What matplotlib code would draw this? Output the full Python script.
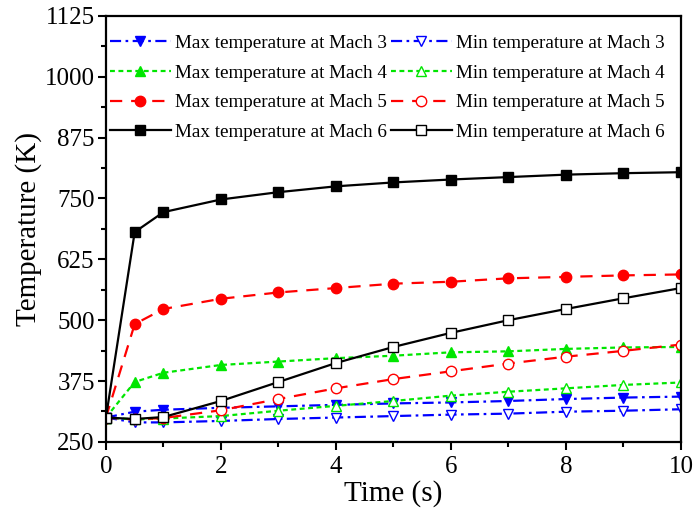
import matplotlib
matplotlib.use("Agg")
import matplotlib.pyplot as plt
from matplotlib.ticker import MultipleLocator

plt.rcParams['font.family'] = ['Liberation Serif', 'DejaVu Serif']
plt.rcParams['mathtext.fontset'] = 'stix'

time_s = [0, 0.5, 1, 2, 3, 4, 5, 6, 7, 8, 9, 10]
max_m3 = [300, 312, 316, 320, 323, 326, 329, 331, 334, 338, 341, 343]
min_m3 = [300, 290, 290, 293, 297, 300, 303, 306, 308, 312, 314, 317]
max_m4 = [300, 373, 392, 408, 415, 422, 427, 434, 436, 441, 444, 445]
min_m4 = [300, 296, 298, 303, 314, 324, 334, 345, 353, 360, 367, 372]
max_m5 = [300, 492, 523, 544, 557, 566, 575, 579, 586, 589, 592, 594]
min_m5 = [300, 296, 299, 315, 338, 360, 379, 395, 411, 425, 437, 450]
max_m6 = [300, 681, 722, 748, 763, 775, 783, 789, 794, 799, 802, 804]
min_m6 = [300, 297, 301, 334, 373, 412, 445, 474, 500, 523, 545, 566]

labels_max = ["Max temperature at Mach 3", "Max temperature at Mach 4",
              "Max temperature at Mach 5", "Max temperature at Mach 6"]
labels_min = ["Min temperature at Mach 3", "Min temperature at Mach 4",
              "Min temperature at Mach 5", "Min temperature at Mach 6"]

fig = plt.figure(figsize=(6.97, 5.15), dpi=100)
ax = fig.add_axes([0.152, 0.142, 0.825, 0.827])

styles = [
    dict(color='#0000ff', dashes=(5, 2, 1.2, 2), marker='v'),
    dict(color='#00e600', dashes=(2.2, 1.6), marker='^'),
    dict(color='#ff0000', dashes=(5.5, 4), marker='o'),
    dict(color='#000000', dashes=None, marker='s'),
]
max_series = [max_m3, max_m4, max_m5, max_m6]
min_series = [min_m3, min_m4, min_m5, min_m6]

hmax, hmin = [], []
ms = 7.5
for st, ymax, ymin, lmax, lmin in zip(styles, max_series, min_series, labels_max, labels_min):
    kw = dict(color=st['color'], lw=1.6, marker=st['marker'], ms=ms)
    if st['dashes'] is None:
        kw['linestyle'] = '-'
    else:
        kw['dashes'] = st['dashes']
    l1, = ax.plot(time_s, ymax, mfc=st['color'], mec=st['color'], label=lmax, **kw)
    l2, = ax.plot(time_s, ymin, mfc='white', mec=st['color'], mew=1.0, label=lmin, **kw)
    hmax.append(l1)
    hmin.append(l2)

ax.set_xlim(0, 10)
ax.set_ylim(250, 1125)
ax.xaxis.set_major_locator(MultipleLocator(2))
ax.xaxis.set_minor_locator(MultipleLocator(1))
ax.yaxis.set_major_locator(MultipleLocator(125))
ax.yaxis.set_minor_locator(MultipleLocator(62.5))
ax.tick_params(which='major', direction='out', length=6, width=1.5, labelsize=18)
ax.tick_params(axis='x', which='major', pad=4)
ax.tick_params(axis='y', which='major', pad=2)
ax.tick_params(which='minor', direction='out', length=3.5, width=1.5)
for sp in ax.spines.values():
    sp.set_linewidth(1.6)

ax.set_xlabel("Time (s)", fontsize=21, labelpad=2)
ax.set_ylabel("Temperature (K)", fontsize=21, labelpad=2)

leg = ax.legend(hmax + hmin, labels_max + labels_min, ncol=2, loc='upper left',
                bbox_to_anchor=(0.0, 0.965), frameon=False, fontsize=13.8,
                handlelength=3.2, handletextpad=0.2, columnspacing=0.2,
                labelspacing=0.64, borderpad=0.2, borderaxespad=0.0)

fig.savefig("out.png", dpi=100)
